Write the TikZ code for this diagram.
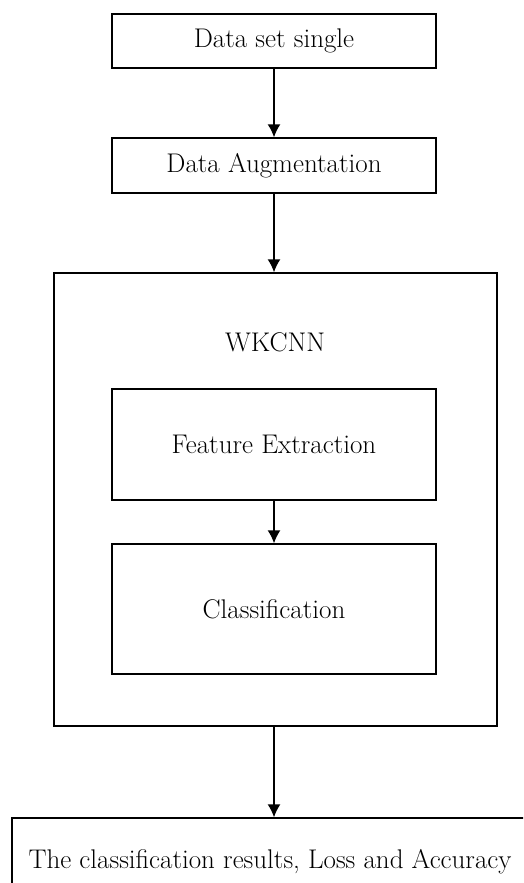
\documentclass[tikz,border=0pt]{standalone}
\usepackage{fontspec}
\usetikzlibrary{arrows.meta}
\begin{document}
\begin{tikzpicture}[
	x=1pt, y=1pt,
	every node/.style={ font=\fontsize{27}{32}\selectfont },
	block/.style={ rectangle, draw, line width=1.4pt, inner sep=0pt, minimum width=324pt },
	outer/.style={ rectangle, draw, line width=1.4pt, inner sep=0pt, minimum width=443pt, minimum height=453pt },
	flow/.style={ -{Latex[length=13pt,width=13pt]}, line width=1.4pt }
]
\useasboundingbox (0,0) rectangle (523,-883);
\clip (0,0) rectangle (523,-883);

\node[block, minimum height=54pt] at (274,-41) (set) {Data set single};
\node[block, minimum height=55pt] at (274,-165.5) (aug) {Data Augmentation};
\node[outer] at (275.5,-499.5) (wk) {};
\node at (275,-342) (wklabel) {WKCNN};
\node[block, minimum height=111pt] at (274,-444.5) (feat) {Feature Extraction};
\node[block, minimum height=130pt] at (274,-609) (cls) {Classification};
\node[rectangle, draw, line width=1.4pt, minimum width=528pt, minimum height=92pt] at (276,-864) (res) {};
\node at (270,-862) (restext) {The classification results, Loss and Accuracy};

\draw[flow] (set) to (aug);
\draw[flow] (aug.south) to (wk.north -| aug.south);
\draw[flow] (feat) to (cls);
\draw[flow] (wk.south -| feat.south) to (res.north -| feat.south);

\end{tikzpicture}
\end{document}
